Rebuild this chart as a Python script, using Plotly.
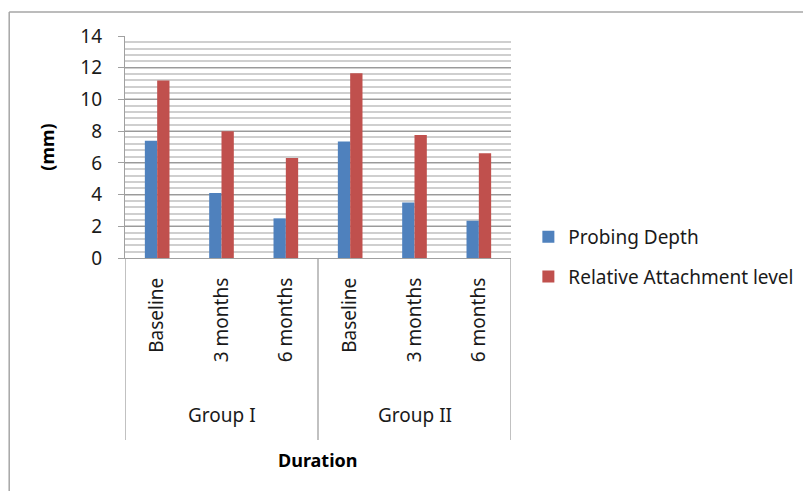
import plotly.graph_objects as go

groups = ["Group I", "Group II"]
periods = ["Baseline", "3 months", "6 months"]
probing_depth = [7.4, 4.1, 2.5, 7.35, 3.5, 2.35]
relative_attachment = [11.2, 8.0, 6.3, 11.65, 7.75, 6.6]
y_ticks = [0, 2, 4, 6, 8, 10, 12, 14]

FONT = "Noto Sans"
n_p = len(periods)
xpos = list(range(len(groups) * n_p))
tick_text = periods * len(groups)

fig = go.Figure()
fig.add_trace(go.Bar(x=xpos, y=probing_depth, name="Probing Depth",
                     marker=dict(color="#4F81BD", line=dict(width=0)),
                     legendgroup="a"))
fig.add_trace(go.Bar(x=xpos, y=relative_attachment, name="Relative Attachment level",
                     marker=dict(color="#C0504D", line=dict(width=0)),
                     legendgroup="b"))

shapes = []
# group dividers
for g in range(len(groups) + 1):
    xb = g * n_p - 0.5
    shapes.append(dict(type="line", xref="x", yref="paper", x0=xb, x1=xb,
                       y0=0, y1=-0.82, line=dict(color="#a0a0a0", width=1.3)))
# outer chart border (top and left)
shapes.append(dict(type="line", xref="paper", yref="paper", x0=-0.3, x1=2.0,
                   y0=1.108, y1=1.108, line=dict(color="#a6a6a6", width=1.5)))
shapes.append(dict(type="line", xref="paper", yref="paper", x0=-0.3, x1=-0.3,
                   y0=1.108, y1=-1.2, line=dict(color="#a6a6a6", width=1.5)))

annotations = []
for g, name in enumerate(groups):
    annotations.append(dict(x=g * n_p + (n_p - 1) / 2, xref="x", y=-0.707, yref="paper",
                            text=name, showarrow=False, yanchor="middle",
                            font=dict(family=FONT, size=19, color="#1a1a1a")))
annotations.append(dict(x=0.5, xref="paper", y=-0.91, yref="paper", text="<b>Duration</b>",
                        showarrow=False, yanchor="middle",
                        font=dict(family=FONT, size=18, color="#000000")))

fig.update_layout(
    width=811, height=491,
    margin=dict(l=117, r=308, t=28, b=241),
    paper_bgcolor="white", plot_bgcolor="white",
    barmode="group", bargap=0.617, bargroupgap=0,
    font=dict(family=FONT, size=18, color="#1a1a1a"),
    showlegend=True,
    legend=dict(x=1.045, xanchor="left", y=0.005, yanchor="middle",
                font=dict(family=FONT, size=19, color="#1a1a1a"),
                tracegroupgap=12, itemwidth=30, bgcolor="rgba(0,0,0,0)"),
    shapes=shapes, annotations=annotations,
)
fig.update_xaxes(range=[-0.5, len(xpos) - 0.5], tickmode="array", tickvals=xpos,
                 ticktext=tick_text, tickangle=-90, showgrid=False,
                 showline=True, linecolor="#a0a0a0", linewidth=1.3,
                 ticks="", ticklabelstandoff=11,
                 tickfont=dict(family=FONT, size=19, color="#1a1a1a"), zeroline=False)
fig.update_yaxes(range=[0, 14], tickvals=y_ticks, showgrid=True, gridcolor="#9a9a9a",
                 gridwidth=1.2,
                 minor=dict(dtick=0.4, showgrid=True, gridcolor="#cfcfcf", gridwidth=1.5),
                 showline=True, linecolor="#a0a0a0", linewidth=1.3,
                 ticks="outside", ticklen=6, tickcolor="#a0a0a0", ticklabelstandoff=12,
                 zeroline=False,
                 tickfont=dict(family=FONT, size=19, color="#1a1a1a"),
                 title=dict(text="<b>(mm)</b>", standoff=20,
                            font=dict(family=FONT, size=18, color="#000000")))

fig.write_html("out.html")
